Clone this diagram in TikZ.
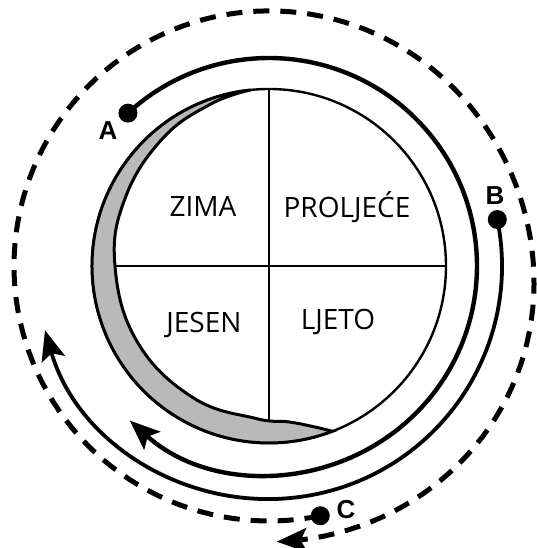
\documentclass[tikz,border=0pt]{standalone}
\usepackage{fontspec}
\newfontfamily\seasonfont{Open Sans}
\newfontfamily\letterfont{Liberation Sans}
\usepackage{tikz}
\usetikzlibrary{arrows.meta, positioning}
\definecolor{stipple}{RGB}{185, 185, 185}

\begin{document}
\begin{tikzpicture}[x=1pt, y=1pt,
  season/.style={font=\seasonfont\fontsize{28}{30}\selectfont, anchor=base, inner sep=0pt},
  letter/.style={font=\letterfont\bfseries\fontsize{26}{28}\selectfont, anchor=base, inner sep=0pt},
  dot/.style={circle, fill=black, inner sep=0pt, minimum size=19pt},
  orbit/.style={line width=4.4pt},
  path2/.style={line width=3.8pt},
  arr/.style={-{Stealth[length=30pt, width=24pt, inset=6pt]}},
  dashring/.style={line width=5pt, dash pattern=on 16pt off 11pt}
]
  \useasboundingbox (-269,-282) rectangle (267,266);

  \draw[line width=2.4pt] (0,0) circle[radius=177];
  \draw[line width=3pt, fill=stipple] (96:177) arc[start angle=96, end angle=291, radius=177]
    -- plot[smooth, tension=0.7] coordinates {(291:177) (285:166) (277:157) (265:153) (240:152)
       (210:152) (180:154) (155:159) (130:166) (110:172) (96:177)} -- cycle;

  \coordinate (W) at (180:154);
  \coordinate (E) at (0:177);
  \coordinate (N) at (90:177);
  \coordinate (S) at (270:154);
  \draw[line width=2.2pt] (W) -- (E);
  \draw[line width=2.2pt] (N) -- (S);

  \node[season] (zima) at (-66,49) {ZIMA};
  \node[season] (proljece) at (78,48) {PROLJEĆE};
  \node[season] (jesen) at (-65,-67) {JESEN};
  \node[season] (ljeto) at (69,-64) {LJETO};

  \node[dot] (A) at (132.7:208) {};
  \node[dot] (B) at (11.5:233) {};
  \node[dot] (C) at (-78.4:255) {};
  \node[letter] (Alab) at (-161,126) {A};
  \node[letter] (Blab) at (226,61) {B};
  \node[letter] (Clab) at (77,-252) {C};

  \draw[orbit, arr] (A.center) arc[start angle=132.7, end angle=-132, radius=208];
  \draw[path2, arr] (B.center) arc[start angle=11.5, end angle=-164, radius=233];
  \draw[dashring, arr] (C.center) -- plot[domain=0:370, samples=150, variable=\t]
    ({-78.4-\t}:{255+21/(1+exp(min(8,-(\t-285)/18)))});
\end{tikzpicture}
\end{document}
